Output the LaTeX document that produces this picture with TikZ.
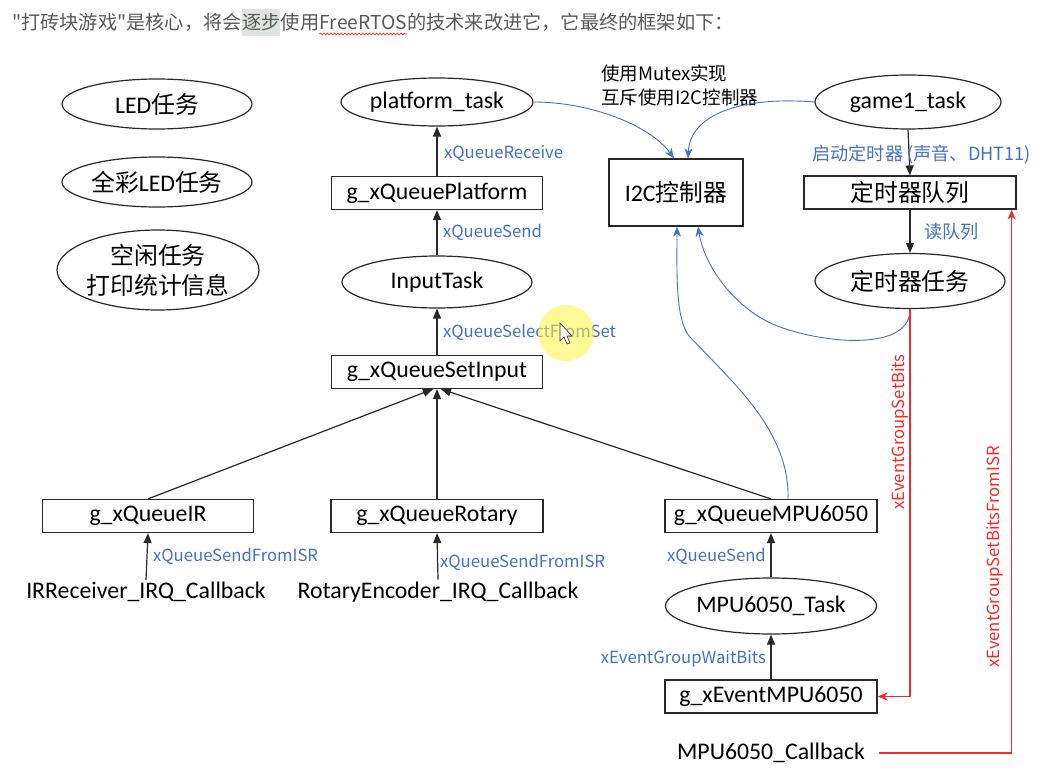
\documentclass[tikz,border=0pt]{standalone}
\usepackage{fontspec}
\setmainfont{Carlito}
\newfontfamily\cjk{Noto Sans CJK SC}
\usetikzlibrary{shapes.geometric,arrows.meta,decorations.pathmorphing,calc}
\definecolor{lc}{RGB}{40,40,40}
\definecolor{bl}{RGB}{68,114,196}
\definecolor{rd}{RGB}{250,40,40}
\definecolor{hg}{RGB}{89,89,89}
\definecolor{hl}{RGB}{222,228,224}
\newcommand\nodefnt{\fontsize{23.8}{30}\selectfont}
\newcommand\lblfnt{\cjk\fontsize{16.7}{21}\selectfont}
\newcommand\cn[1]{{\cjk #1}}
\begin{document}
\begin{tikzpicture}[x=1pt,y=-1pt,
  ell/.style={ellipse,draw=lc,line width=1.2pt,inner sep=0pt,font=\nodefnt,minimum width=190pt,minimum height=50pt},
  qbox/.style={rectangle,draw=lc,line width=1.2pt,inner sep=0pt,font=\nodefnt,minimum width=211pt,minimum height=33pt},
  txt/.style={inner sep=2pt,font=\nodefnt},
  lbl/.style={inner sep=0pt,font=\lblfnt,text=bl},
  rlbl/.style={inner sep=0pt,font=\lblfnt,text=rd,rotate=90},
  hdr/.style={inner sep=0pt,font=\cjk\fontsize{19.2}{22}\selectfont,text=hg,anchor=base west},
  arr/.style={draw=lc,line width=1.2pt,-{Triangle[length=10pt,width=8pt]}},
  barr/.style={draw=bl,line width=0.9pt,-{Stealth[length=10pt,width=8pt,inset=3pt]}},
  rarr/.style={draw=rd,line width=1.2pt,-{Stealth[length=10pt,width=8pt,inset=3pt]}}
]
\useasboundingbox (0,0) rectangle (1041,773);
\fill[white] (0,0) rectangle (1041,773);

% header
\node[hdr] (h1) at (12,30) {"打砖块游戏"是核心，将会};
\node[hdr,fill=hl,inner ysep=5pt] (h2) at (h1.base east) {逐步};
\node[hdr] (h3) at (h2.base east) {使用};
\node[hdr] (h4) at (h3.base east) {FreeRTOS};
\node[hdr] (h5) at (h4.base east) {的技术来改进它，它最终的框架如下：};
\draw[rd,line width=0.6pt,decorate,decoration={snake,amplitude=0.9pt,segment length=3.5pt}]
  ([yshift=-4pt]h4.base west) -- ([yshift=-4pt]h4.base east);

% left column
\node[ell] (led) at (157,104) {LED\cn{任务}};
\node[ell] (rgb) at (157,182) {\cn{全彩}LED\cn{任务}};
\node[ell,minimum height=80pt,align=center] (idle) at (158,270) {\cn{空闲任务}\\\cn{打印统计信息}};

% centre column
\node[ell,minimum width=192pt,minimum height=48pt] (pt) at (437,102) {platform\_task};
\node[qbox] (pp) at (437,193) {g\_xQueuePlatform};
\node[ell,minimum height=52pt] (it) at (437,282) {InputTask};
\node[qbox] (sin) at (437,372) {g\_xQueueSetInput};
\node[qbox] (ir) at (148,516) {g\_xQueueIR};
\node[qbox,minimum width=212pt] (rot) at (437,516) {g\_xQueueRotary};
\node[txt] (ircb) at (146,592) {IRReceiver\_IRQ\_Callback};
\node[txt] (rotcb) at (438,592) {RotaryEncoder\_IRQ\_Callback};

% I2C and note
\node[qbox,minimum width=134pt,minimum height=67pt] (i2c) at (676,192.5) {I2C\cn{控制器}};
\node[inner sep=0pt,anchor=west,align=left,font=\cjk\fontsize{18.5}{24}\selectfont] (note) at (601,85) {使用Mutex实现\\互斥使用I2C控制器};

% right column
\node[ell,minimum width=186pt,minimum height=54pt] (g1) at (908,102) {game1\_task};
\node[qbox,minimum width=212pt] (tq) at (910,192.5) {\cn{定时器队列}};
\node[ell,minimum height=55pt] (tt) at (910,281) {\cn{定时器任务}};

% MPU column
\node[qbox,minimum width=212pt] (mq) at (771,516) {g\_xQueueMPU6050};
\node[ell,minimum height=56pt] (mt) at (771,606) {MPU6050\_Task};
\node[qbox,minimum width=212pt] (ev) at (771,696.5) {g\_xEventMPU6050};
\node[txt] (mpucb) at (771,753) {MPU6050\_Callback};

% black arrows
\draw[arr] (pp.north) -- (pt.south);
\draw[arr] (it.north) -- (pp.south);
\draw[arr] (sin.north) -- (it.south);
\draw[arr] (ir.north) -- ([xshift=-4pt]sin.south);
\draw[arr] (rot.north) -- (sin.south);
\draw[arr] (mq.north) -- ([xshift=4pt]sin.south);
\draw[arr] (ircb.north) -- (ir.south);
\draw[arr] (rotcb.north) -- (rot.south);
\draw[arr] (mt.north) -- (mq.south);
\draw[arr] (ev.north) -- (mt.south);
\draw[arr] (g1.south) -- (tq.north);
\draw[arr] (tq.south) -- (tt.north);

% blue curves
\draw[barr] (pt.east) .. controls (590,102) and (650,125) .. ([xshift=-2pt]i2c.north);
\draw[barr] (g1.west) .. controls (740,96) and (690,115) .. ([xshift=12pt]i2c.north);
\draw[barr] (tt.south) .. controls (911,350) and (830,345) .. (780,327)
  .. controls (740,313) and (705,270) .. ([xshift=22pt]i2c.south);
\draw[barr] ([xshift=17pt]mq.north) .. controls (790,430) and (730,380) .. (690,337)
  .. controls (675,321) and (677,270) .. ([xshift=1pt]i2c.south);

% red connectors
\draw[rarr] (tt.south) |- (ev.east);
\draw[rarr] ([xshift=12pt]mpucb.east) -| ([xshift=-5pt]tq.south east);

% labels
\node[lbl,anchor=west] (l1) at (444,154) {xQueueReceive};
\node[lbl,anchor=west] (l2) at (443,232) {xQueueSend};
\node[lbl,anchor=west] (l3) at (443,332) {xQueueSelectFromSet};
\node[lbl,anchor=west] (l4) at (153,556) {xQueueSendFromISR};
\node[lbl,anchor=west] (l5) at (440,562) {xQueueSendFromISR};
\node[lbl,anchor=east] (l6) at (766,556) {xQueueSend};
\node[lbl,anchor=east] (l7) at (766,659) {xEventGroupWaitBits};
\node[lbl,anchor=west,font=\cjk\fontsize{18.2}{21}\selectfont] (l8) at (812,155) {启动定时器 (声音、DHT11)};
\node[lbl,anchor=west,font=\cjk\fontsize{18.2}{21}\selectfont] (l9) at (924,232) {读队列};
\node[rlbl] (r1) at (900,432) {xEventGroupSetBits};
\node[rlbl] (r2) at (995,557) {xEventGroupSetBitsFromISR};

% cursor highlight
\fill[yellow!75!white,opacity=0.55] (566,333) circle (28);
\draw[lc,fill=white,line width=0.6pt] (560,323) -- (560,341) -- (564,337) -- (567,344) -- (570,343) -- (567,336) -- (572,336) -- cycle;
\end{tikzpicture}
\end{document}
